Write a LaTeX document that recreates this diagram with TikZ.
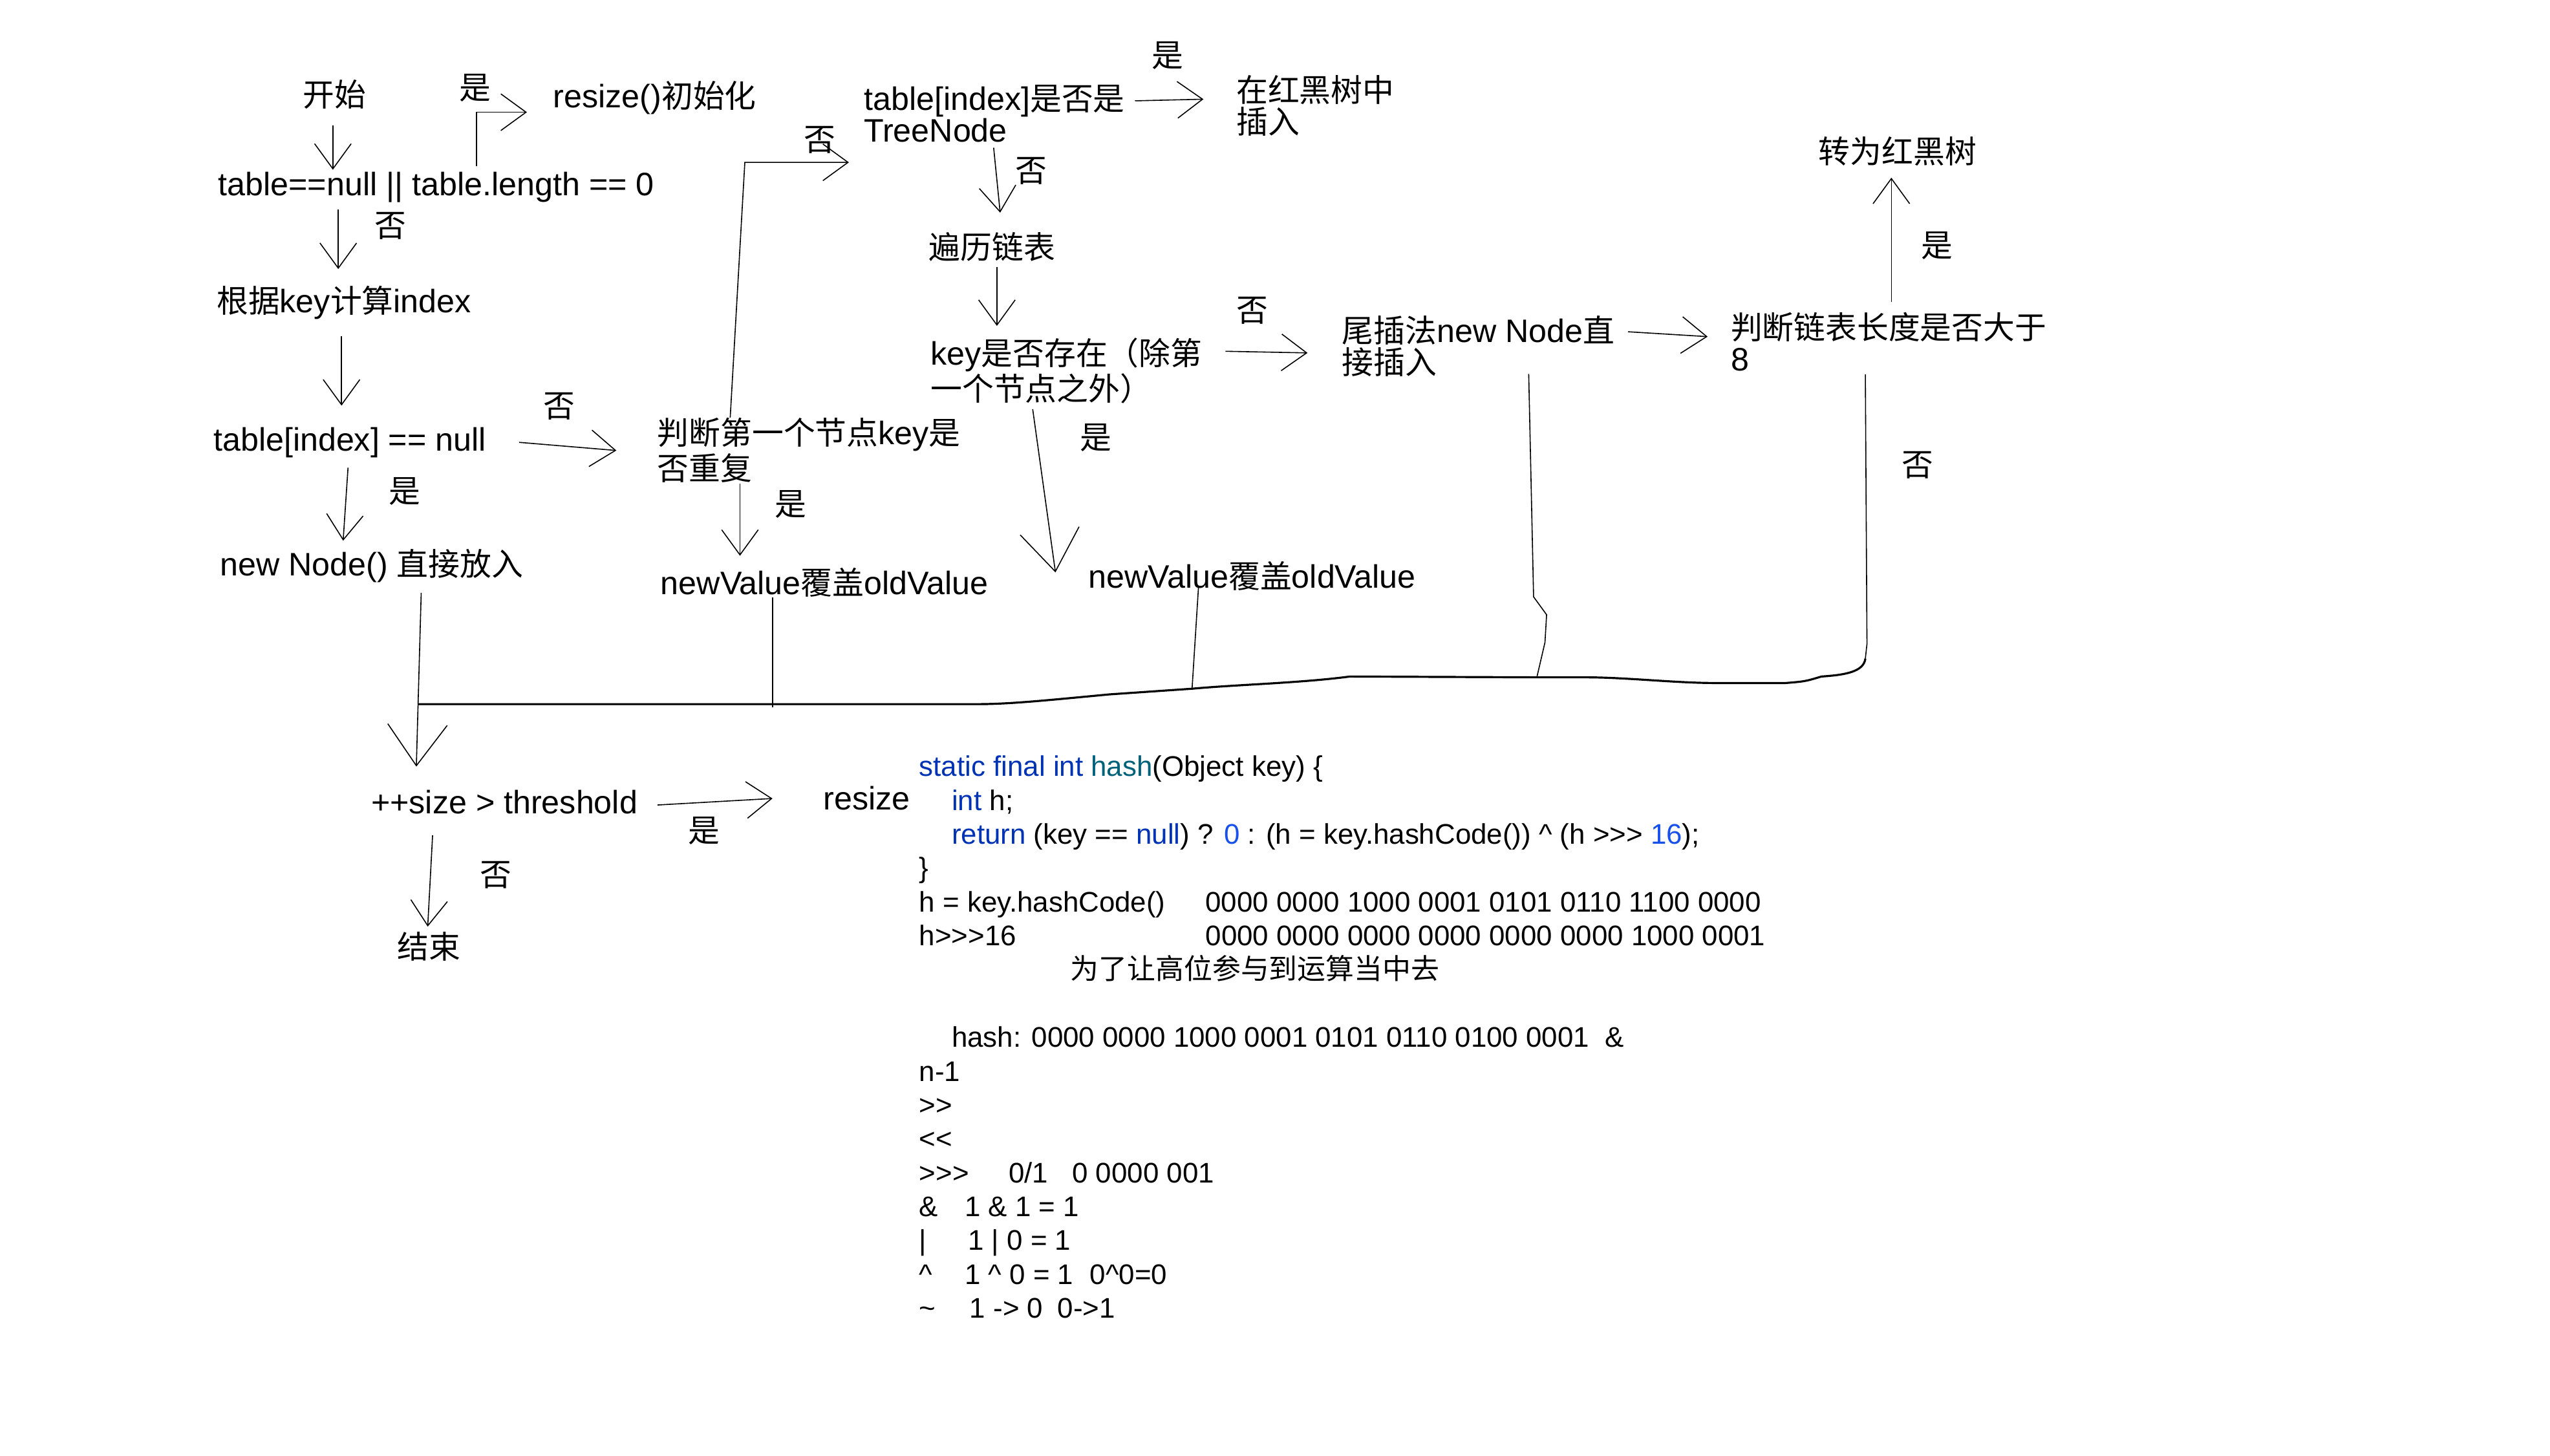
\documentclass[tikz,border=0pt]{standalone}
\usepackage{fontspec}
\setmainfont{Liberation Sans}
\newfontfamily\zhfont{Noto Sans CJK SC}[Scale=0.972]
\newfontfamily\zhcode{Noto Sans CJK SC}
\newcommand{\zh}[1]{{\zhfont #1}}
\usetikzlibrary{arrows.meta,calc}
\definecolor{kwblue}{RGB}{0,51,179}
\definecolor{fnteal}{RGB}{0,98,122}
\definecolor{numblue}{RGB}{23,80,235}

\begin{document}
\begin{tikzpicture}[x=0.025cm, y=-0.025cm,
    every node/.style={inner sep=0pt, font=\fontsize{14.2}{13.8}\selectfont},
    lbl/.style={anchor=west, align=left},
    tip/.style={-{Straight Barb[length=11pt,width=16pt]}, line width=0.45pt},
    bigtip/.style={-{Straight Barb[length=18pt,width=26pt]}, line width=0.45pt},
    wire/.style={line width=0.45pt},
    bus/.style={line width=0.9pt},
    codeblk/.style={anchor=north west, align=left, font=\fontsize{12.4}{14.8}\selectfont}]
  \useasboundingbox (0,0) rectangle (1568,895);
  % left column
  \node[lbl] (start) at (186,58) {\zh{开始}};
  \node[lbl] (cond1) at (134,115) {table==null || table.length == 0};
  \node[lbl] (init) at (340,60) {resize()\zh{初始化}};
  \node[lbl] (idx) at (133,186) {\zh{根据}key\zh{计算}index};
  \node[lbl] (cond2) at (131,272) {table[index] == null};
  \node[lbl] (put) at (135,348) {new Node() \zh{直接放入}};
  % first node / tree branch
  \node[lbl] (first) at (404,277) {\zh{判断第一个节点}key\zh{是}\\\zh{否重复}};
  \node[lbl] (cover1) at (406,358) {newValue\zh{覆盖}oldValue};
  \node[lbl] (tree) at (531,70) {table[index]\zh{是否是}\\TreeNode};
  \node[lbl] (rbins) at (760,65) {\zh{在红黑树中}\\\zh{插入}};
  \node[lbl] (walk) at (571,152) {\zh{遍历链表}};
  \node[lbl] (exist) at (572,228) {key\zh{是否存在（除第}\\\zh{一个节点之外）}};
  \node[lbl] (cover2) at (669,354) {newValue\zh{覆盖}oldValue};
  \node[lbl] (tail) at (825,213) {\zh{尾插法}new Node\zh{直}\\\zh{接插入}};
  \node[lbl] (len) at (1064,210) {\zh{判断链表长度是否大于}\\8};
  \node[lbl] (torb) at (1118,93) {\zh{转为红黑树}};
  % bottom part
  \node[lbl] (size) at (228,493) {++size > threshold};
  \node[lbl] (rsz) at (506,491) {resize};
  \node[lbl] (stop) at (244,582) {\zh{结束}};
  % yes / no labels
  \node (y1) at (292,54) {\zh{是}};
  \node (y2) at (718,34) {\zh{是}};
  \node (y3) at (249,302) {\zh{是}};
  \node (y4) at (486,310) {\zh{是}};
  \node (y5) at (674,269) {\zh{是}};
  \node (y6) at (1191,151) {\zh{是}};
  \node (y7) at (433,511) {\zh{是}};
  \node (n1) at (240,139) {\zh{否}};
  \node (n2) at (344,250) {\zh{否}};
  \node (n3) at (504,86) {\zh{否}};
  \node (n4) at (634,105) {\zh{否}};
  \node (n5) at (770,191) {\zh{否}};
  \node (n6) at (1179,286) {\zh{否}};
  \node (n7) at (305,538) {\zh{否}};
  % hash notes
  \node[codeblk] (hashfn) at (565,464.5) {%
    {\color{kwblue}static final int} {\color{fnteal}hash}(Object key) \{\\
    \hspace*{0.5cm}{\color{kwblue}int} h;\\
    \hspace*{0.5cm}{\color{kwblue}return} (key == {\color{kwblue}null}) ? {\color{numblue}0} : (h = key.hashCode()) \textasciicircum{} (h >\kern0pt>\kern0pt> {\color{numblue}16});\\
    \}\\
    \makebox[4.4cm][l]{h = key.hashCode()}0000 0000 1000 0001 0101 0110 1100 0000\\
    \makebox[4.4cm][l]{h>\kern0pt>\kern0pt>16}0000 0000 0000 0000 0000 0000 1000 0001\\
    \hspace*{2.325cm}{\zhcode 为了让高位参与到运算当中去}\\
    \mbox{}\\
    \hspace*{0.5cm}hash: 0000 0000 1000 0001 0101 0110 0100 0001\ \ \&\\
    n-1\\
    >\kern0pt>\\
    <\kern0pt<\\
    \makebox[1.375cm][l]{>\kern0pt>\kern0pt>}\makebox[0.975cm][l]{0/1}0 0000 001\\
    \makebox[0.7cm][l]{\&}1 \& 1 = 1\\
    \makebox[0.75cm][l]{|}1 | 0 = 1\\
    \makebox[0.7cm][l]{\textasciicircum}\makebox[1.925cm][l]{1 \textasciicircum{} 0 = 1}0\textasciicircum 0=0\\
    \makebox[0.775cm][l]{\textasciitilde}\makebox[1.35cm][l]{1 -> 0}0->1};
  % arrows
  \draw[tip] ($(start.south)+(-1,10)$) -- ($(start.south |- cond1.north)+(-1,-1)$);
  \draw[tip] ($(cond1.north west)+(159,-3)$) |- ($(init.west)+(-16,9)$);
  \draw[tip] ($(cond1.south west)+(74,4)$) -- ($(idx.north west)+(75,-10)$);
  \draw[tip] ($(idx.south west)+(77,10)$) -- ($(cond2.north west)+(79,-13)$);
  \draw[tip] ($(cond2.south west)+(83,6)$) -- ($(put.north west)+(76,-5)$);
  \draw[tip] ($(cond2.east)+(20,0)$) -- ($(first.west)+(-25,0)$);
  \draw[tip] ($(first.south west)+(51,0)$) -- ($(cover1.north west)+(49,-7)$);
  \draw[tip] ($(first.north west)+(45,0)$) -- ($(tree.south west)+(-73,12)$) -- ($(tree.south west)+(-9,12)$);
  \draw[tip] ($(tree.east)+(6,-8)$) -- ($(rbins.west)+(-20,-4)$);
  \draw[tip] ($(tree.south west)+(80,3)$) -- ($(walk.north west)+(44,-12)$);
  \draw[tip] ($(walk.south west)+(42,3)$) -- ($(exist.north west)+(41,-7)$);
  \draw[tip] ($(exist.east)+(14,-12)$) -- ($(tail.west)+(-21,4)$);
  \draw[bigtip] ($(exist.south west)+(63,3)$) -- ($(cover2.west)+(-20,-2)$);
  \draw[tip] ($(tail.east)+(8,-9)$) -- ($(len.west)+(-14,-3)$);
  \draw[tip] ($(len.north west)+(99,-6)$) -- ($(torb.south west)+(45,7)$);
  \draw[bigtip] ($(put.south west)+(124,6)$) -- ($(size.north west)+(28,-14)$);
  \draw[tip] ($(size.east)+(12,2)$) -- ($(rsz.west)+(-31,0)$);
  \draw[tip] ($(size.south west)+(38,13)$) -- ($(stop.north west)+(19,-3)$);
  % collecting line
  \coordinate (j0) at (257,433);
  \coordinate (j2) at (475,433);
  \coordinate (j3) at (733,423.5);
  \coordinate (j4) at (945,416.5);
  \coordinate (j5) at (1147,405);
  \draw[wire] ($(cover1.south west)+(69,0)$) -- ($(j2)+(0,2)$);
  \draw[wire] ($(cover2.south west)+(68,-3)$) -- (j3);
  \draw[wire] ($(tail.south west)+(115,-2)$) -- (943,367) -- (951,378) -- (950,395) -- (j4);
  \draw[wire] ($(len.south west)+(83,2)$) -- (1148,396) -- (j5);
  \draw[bus] (j5) .. controls (1146,413) and (1135,415) .. (1120,416)
    .. controls (1110,419) .. (1098,420) -- (1055,420)
    .. controls (1030,420) and (1000,416.5) .. (975,416.5)
    -- (j4) -- (830,416)
    .. controls (800,420) and (760,421) .. (j3)
    -- (682,427) .. controls (640,431) and (620,433) .. (600,433)
    -- (j2) -- (j0);
\end{tikzpicture}
\end{document}
